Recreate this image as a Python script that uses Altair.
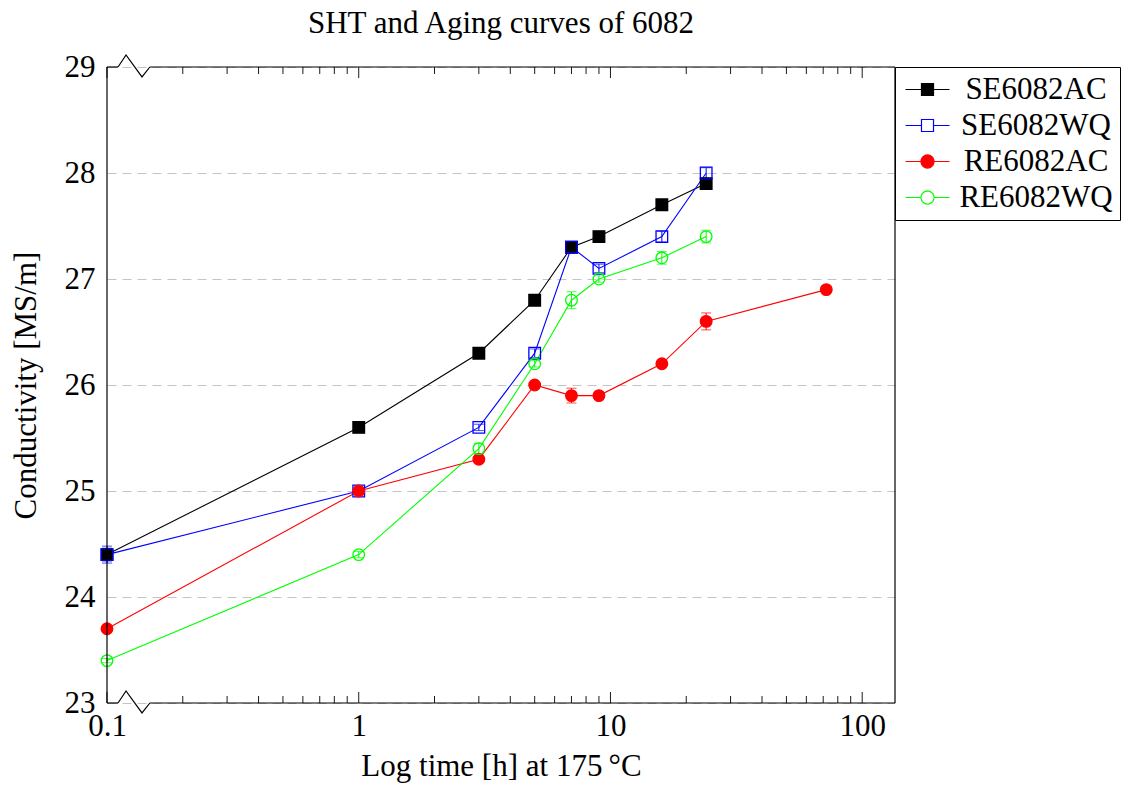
import altair as alt
import pandas as pd
import numpy as np

# ---------------- data ----------------
series_names = ["SE6082AC", "SE6082WQ", "RE6082AC", "RE6082WQ"]
series_colors = ["#000000", "#0000ff", "#ff0000", "#00ff00"]
series_fills = ["#000000", "transparent", "#ff0000", "transparent"]
series_shapes = ["square", "square", "circle", "circle"]

time_se_ac = [0.1, 1, 3, 5, 7, 9, 16, 24]
cond_se_ac = [24.4, 25.6, 26.3, 26.8, 27.3, 27.4, 27.7, 27.9]
err_se_ac = [0.06, 0.02, 0.02, 0.02, 0.02, 0.02, 0.04, 0.03]

time_se_wq = [0.1, 1, 3, 5, 7, 9, 16, 24]
cond_se_wq = [24.4, 25.0, 25.6, 26.3, 27.3, 27.1, 27.4, 28.0]
err_se_wq = [0.08, 0.02, 0.03, 0.04, 0.04, 0.04, 0.05, 0.05]

time_re_ac = [0.1, 1, 3, 5, 7, 9, 16, 24, 72]
cond_re_ac = [23.7, 25.0, 25.3, 26.0, 25.9, 25.9, 26.2, 26.6, 26.9]
err_re_ac = [0.02, 0.02, 0.02, 0.03, 0.07, 0.03, 0.02, 0.08, 0.02]

time_re_wq = [0.1, 1, 3, 5, 7, 9, 16, 24]
cond_re_wq = [23.4, 24.4, 25.4, 26.2, 26.8, 27.0, 27.2, 27.4]
err_re_wq = [0.02, 0.03, 0.05, 0.03, 0.08, 0.03, 0.06, 0.06]

x_major = [0.1, 1, 10, 100]
x_minor = [0.2, 0.3, 0.4, 0.5, 0.6, 0.7, 0.8, 0.9,
           2, 3, 4, 5, 6, 7, 8, 9,
           20, 30, 40, 50, 60, 70, 80, 90]
y_ticks = [23, 24, 25, 26, 27, 28, 29]
x_domain = [0.1, 135]
y_domain = [23, 29]

# axis-break zigzag (data units)
break_x = [0.1106, 0.119, 0.1377, 0.148]
break_dy = [0.0, 0.113, -0.094, 0.0]

FONT = "Liberation Serif"
FS = 31

# ---------------- tables ----------------
rows = []
for name, ts, vs, es in [
    ("SE6082AC", time_se_ac, cond_se_ac, err_se_ac),
    ("SE6082WQ", time_se_wq, cond_se_wq, err_se_wq),
    ("RE6082AC", time_re_ac, cond_re_ac, err_re_ac),
    ("RE6082WQ", time_re_wq, cond_re_wq, err_re_wq),
]:
    for i, (t, v, e) in enumerate(zip(ts, vs, es)):
        rows.append({"series": name, "t": t, "v": v, "lo": v - e, "hi": v + e, "i": i})
df = pd.DataFrame(rows)

zig = pd.DataFrame(
    [{"edge": "top", "x": bx, "y": y_domain[1] + dy, "k": k} for k, (bx, dy) in enumerate(zip(break_x, break_dy))]
    + [{"edge": "bottom", "x": bx, "y": y_domain[0] + dy, "k": k} for k, (bx, dy) in enumerate(zip(break_x, break_dy))]
)

frame_h = pd.DataFrame({
    "x": [x_domain[0], break_x[-1], x_domain[0], break_x[-1]],
    "x2": [break_x[0], x_domain[1], break_x[0], x_domain[1]],
    "y": [y_domain[1], y_domain[1], y_domain[0], y_domain[0]],
})
frame_v = pd.DataFrame({"x": [x_domain[0], x_domain[1]]})
maj = pd.DataFrame({"x": x_major})
mino = pd.DataFrame({"x": x_minor})

x_scale = alt.Scale(type="log", domain=x_domain, nice=False)
y_scale = alt.Scale(domain=y_domain, nice=False, zero=False)

stroke_scale = alt.Scale(domain=series_names, range=series_colors)
fill_scale = alt.Scale(domain=series_names, range=series_fills)
shape_scale = alt.Scale(domain=series_names, range=series_shapes)

AX_STYLE = dict(labelFont=FONT, titleFont=FONT, labelFontSize=FS, titleFontSize=FS,
                labelColor="black", titleColor="black", titleFontWeight="normal",
                labelFlush=False)
X_AXIS = alt.Axis(values=x_major, format="~g", ticks=False, domain=False, grid=False,
                  title="Log time [h] at 175\u2009°C", labelPadding=8, titlePadding=10,
                  **AX_STYLE)
Y_AXIS = alt.Axis(values=y_ticks, ticks=False, domain=False, grid=True,
                  gridDash=[9, 6], gridColor="#c4c4c4", gridWidth=1,
                  title="Conductivity [MS/m]", labelPadding=12, titlePadding=22,
                  **AX_STYLE)


# legend symbol paths (line + marker), unit coordinates scaled by sqrt(size)/2
def sq_path(h):
    return (f"M-3,0L{-h},0M{h},0L3,0"
            f"M{-h},{-h}L{h},{-h}L{h},{h}L{-h},{h}Z")


def circ_path(r, n=28):
    pts = [(r * np.cos(2 * np.pi * k / n), r * np.sin(2 * np.pi * k / n)) for k in range(n)]
    return (f"M-3,0L{-r},0M{r},0L3,0M"
            + "L".join(f"{x:.3f},{y:.3f}" for x, y in pts) + "Z")


legend_paths = [sq_path(0.82), sq_path(0.82), circ_path(0.89), circ_path(0.89)]
legend_shape_scale = alt.Scale(domain=series_names, range=legend_paths)


def xq(field):
    return alt.X(f"{field}:Q", scale=x_scale, axis=X_AXIS)


def yq(field):
    return alt.Y(f"{field}:Q", scale=y_scale, axis=Y_AXIS)


lines = alt.Chart(df).mark_line(strokeWidth=1.1).encode(
    x=xq("t"), y=yq("v"),
    stroke=alt.Stroke("series:N", scale=stroke_scale, legend=None),
    detail="series:N",
    order="t:Q",
)

err_rules = alt.Chart(df).mark_rule(strokeWidth=1).encode(
    x=xq("t"), y=yq("lo"), y2="hi:Q",
    stroke=alt.Stroke("series:N", scale=stroke_scale, legend=None),
)
cap_lo = alt.Chart(df).mark_tick(orient="horizontal", size=10, thickness=1).encode(
    x=xq("t"), y=yq("lo"),
    color=alt.Color("series:N", scale=stroke_scale, legend=None),
)
cap_hi = alt.Chart(df).mark_tick(orient="horizontal", size=10, thickness=1).encode(
    x=xq("t"), y=yq("hi"),
    color=alt.Color("series:N", scale=stroke_scale, legend=None),
)

points = alt.Chart(df).mark_point(filled=False, strokeWidth=1.3, opacity=1, size=135).encode(
    x=xq("t"), y=yq("v"),
    stroke=alt.Stroke("series:N", scale=stroke_scale, legend=None),
    fill=alt.Fill("series:N", scale=fill_scale, legend=None),
    shape=alt.Shape("series:N", scale=shape_scale, legend=None),
)

leg = alt.Legend(
    title=None, orient="none", legendX=788, legendY=0,
    strokeColor="black", fillColor="white", padding=7,
    labelFont=FONT, labelFontSize=FS, labelColor="black", labelLimit=400,
    labelAlign="center",
    symbolSize=215, symbolStrokeWidth=1.2, symbolOpacity=1,
    symbolOffset=10, labelOffset=93, rowPadding=4,
)

legend_layer = alt.Chart(df).mark_point(filled=False, opacity=0).encode(
    x=xq("t"), y=yq("v"),
    stroke=alt.Stroke("series:N", scale=stroke_scale, legend=leg),
    fill=alt.Fill("series:N", scale=fill_scale, legend=leg),
    shape=alt.Shape("series:N", scale=legend_shape_scale, legend=leg),
)

frame_hl = alt.Chart(frame_h).mark_rule(color="black", strokeWidth=1.2).encode(
    x=xq("x"), x2="x2:Q", y=yq("y"),
)
frame_vl = alt.Chart(frame_v).mark_rule(color="black", strokeWidth=1.2).encode(
    x=xq("x"), y=alt.value(0), y2=alt.value(636),
)
zigzag = alt.Chart(zig).mark_line(color="black", strokeWidth=1.2, clip=False).encode(
    x=xq("x"), y=yq("y"),
    detail="edge:N", order="k:Q",
)

maj_b = alt.Chart(maj).mark_rule(color="black", strokeWidth=0.9).encode(
    x=xq("x"), y=alt.value(636), y2=alt.value(625))
maj_t = alt.Chart(maj).mark_rule(color="black", strokeWidth=0.9).encode(
    x=xq("x"), y=alt.value(0), y2=alt.value(11))
min_b = alt.Chart(mino).mark_rule(color="black", strokeWidth=0.9).encode(
    x=xq("x"), y=alt.value(636), y2=alt.value(629))
min_t = alt.Chart(mino).mark_rule(color="black", strokeWidth=0.9).encode(
    x=xq("x"), y=alt.value(0), y2=alt.value(7))

chart = alt.layer(
    lines, err_rules, cap_lo, cap_hi, points, legend_layer,
    frame_hl, frame_vl, zigzag, maj_b, maj_t, min_b, min_t,
).resolve_scale(
    stroke="independent", fill="independent", shape="independent", color="independent"
).properties(
    width=788, height=636,
    padding={"left": 107, "top": 67, "right": 234, "bottom": 84},
    autosize=alt.AutoSizeParams(type="none"),
    background="white",
    title=alt.TitleParams("SHT and Aging curves of 6082", anchor="middle", font=FONT,
                          fontSize=FS, fontWeight="normal", color="black", offset=11),
).configure_view(stroke=None)

chart.save("out.html", embed_options={"renderer": "svg", "actions": False})
